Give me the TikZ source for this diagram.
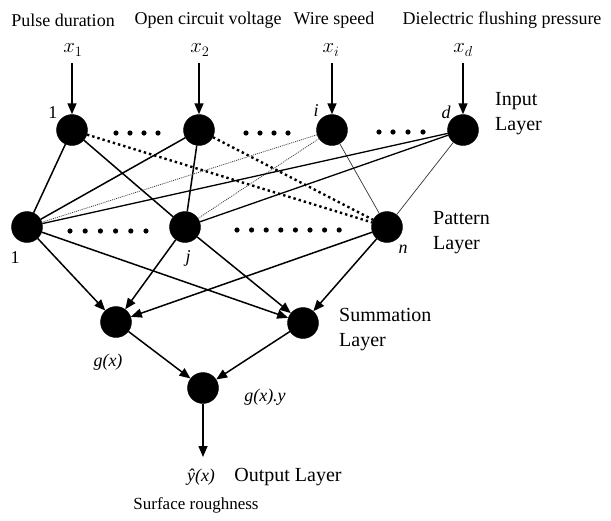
\documentclass[tikz,border=0pt]{standalone}
\usepackage{fontspec}
\setmainfont{Liberation Serif}
\usetikzlibrary{arrows.meta}
\begin{document}
\begin{tikzpicture}[x=1pt,y=-1pt,
  neuron/.style={circle,fill=black,draw=black,minimum size=31pt,inner sep=0pt},
  conn/.style={line width=1.5pt},
  fatdot/.style={line width=2.4pt,dash pattern=on 2.4pt off 3pt},
  finedot/.style={line width=0.8pt,dash pattern=on 1pt off 1pt,black!75},
  thinline/.style={line width=0.7pt,black!80},
  arr/.style={line width=1.5pt,-{Triangle[length=11pt,width=9pt]}},
  toptext/.style={font=\fontsize{18}{20}\selectfont,inner sep=0pt},
  layertext/.style={font=\fontsize{20}{25}\selectfont,align=left,anchor=west,inner sep=0pt},
  idx/.style={font=\fontsize{18}{20}\selectfont\itshape,inner sep=0pt},
  xlab/.style={font=\fontsize{20}{22}\selectfont,inner sep=0pt},
  smalldot/.style={fill=black}
]
\useasboundingbox (0,0) rectangle (611,520);

% top labels
\node[toptext] (t1) at (63,20) {Pulse duration};
\node[toptext] (t2) at (208,20) {Open circuit voltage};
\node[toptext] (t3) at (334,20) {Wire speed};
\node[toptext] (t4) at (502,20) {Dielectric flushing pressure};

% x labels
\node[xlab] (x1) at (73,50) {$x_1$};
\node[xlab] (x2) at (200,50) {$x_2$};
\node[xlab] (xi) at (331,50) {$x_i$};
\node[xlab] (xd) at (463,50) {$x_d$};

% nodes
\node[neuron] (in1) at (72,130) {};
\node[neuron] (in2) at (199,130) {};
\node[neuron] (ini) at (332,130) {};
\node[neuron] (ind) at (463,130) {};
\node[neuron] (p1) at (27,227) {};
\node[neuron] (pj) at (185,227) {};
\node[neuron] (pn) at (387,227) {};
\node[neuron] (s1) at (116,322) {};
\node[neuron] (s2) at (303,323) {};
\node[neuron] (o) at (203,388) {};

% input arrows
\coordinate (a1) at (72,63);
\coordinate (a2) at (199,63);
\coordinate (ai) at (332,63);
\coordinate (ad) at (463,63);
\draw[arr] (a1) -- (in1);
\draw[arr] (a2) -- (in2);
\draw[arr] (ai) -- (ini);
\draw[arr] (ad) -- (ind);

% input -> pattern
\draw[conn] (in1) -- (p1);
\draw[conn] (in1) -- (pj);
\draw[fatdot] (in1) -- (pn);
\draw[conn] (in2) -- (p1);
\draw[conn] (in2) -- (pj);
\draw[fatdot] (in2) -- (pn);
\draw[finedot] (ini) -- (p1);
\draw[finedot] (ini) -- (pj);
\draw[thinline] (ini) -- (pn);
\draw[conn,line width=1.3pt] (ind) -- (p1);
\draw[conn,line width=1.3pt] (ind) -- (pj);
\draw[thinline] (ind) -- (pn);

% pattern -> summation
\draw[arr] (p1) -- (s1);
\draw[arr] (p1) -- (s2);
\draw[arr] (pj) -- (s1);
\draw[arr] (pj) -- (s2);
\draw[arr] (pn) -- (s1);
\draw[arr] (pn) -- (s2);

% summation -> output
\draw[arr] (s1) -- (o);
\draw[arr] (s2) -- (o);
\coordinate (oend) at (203,457);
\draw[arr] (o) -- (oend);

% dots in input layer
\foreach \x in {116,130,144,158} \fill[smalldot] (\x,133) circle (2.6pt);
\foreach \x in {246,260,274,288} \fill[smalldot] (\x,133) circle (2.6pt);
\foreach \x in {379,393,408,423} \fill[smalldot] (\x,132) circle (2.6pt);
% dots in pattern layer
\foreach \i in {0,...,5} \fill[smalldot] (70+\i*15.2,231) circle (2.6pt);
\foreach \i in {0,...,7} \fill[smalldot] (237+\i*14.6,230) circle (2.6pt);

% index labels
\node[idx,font=\fontsize{18}{20}\selectfont] (l1) at (53,113) {1};
\node[idx] (li) at (316,111) {i};
\node[idx] (ld) at (446,112) {d};
\node[idx,font=\fontsize{18}{20}\selectfont] (lp1) at (15,258) {1};
\node[idx] (lj) at (188,258) {j};
\node[idx] (ln) at (403,249) {n};
\node[idx] (lg) at (108,362) {g(x)};
\node[idx] (lgy) at (265,397) {g(x).y};
\node[idx] (ly) at (201,477) {ŷ(x)};

% layer labels
\node[layertext] (L1) at (495,114) {Input\\Layer};
\node[layertext] (L2) at (433,233) {Pattern\\Layer};
\node[layertext] (L3) at (339,330) {Summation\\Layer};
\node[layertext,anchor=center] (L4) at (288,477) {Output Layer};
\node[toptext,font=\fontsize{17}{20}\selectfont] (sr) at (196,505) {Surface roughness};
\end{tikzpicture}
\end{document}
